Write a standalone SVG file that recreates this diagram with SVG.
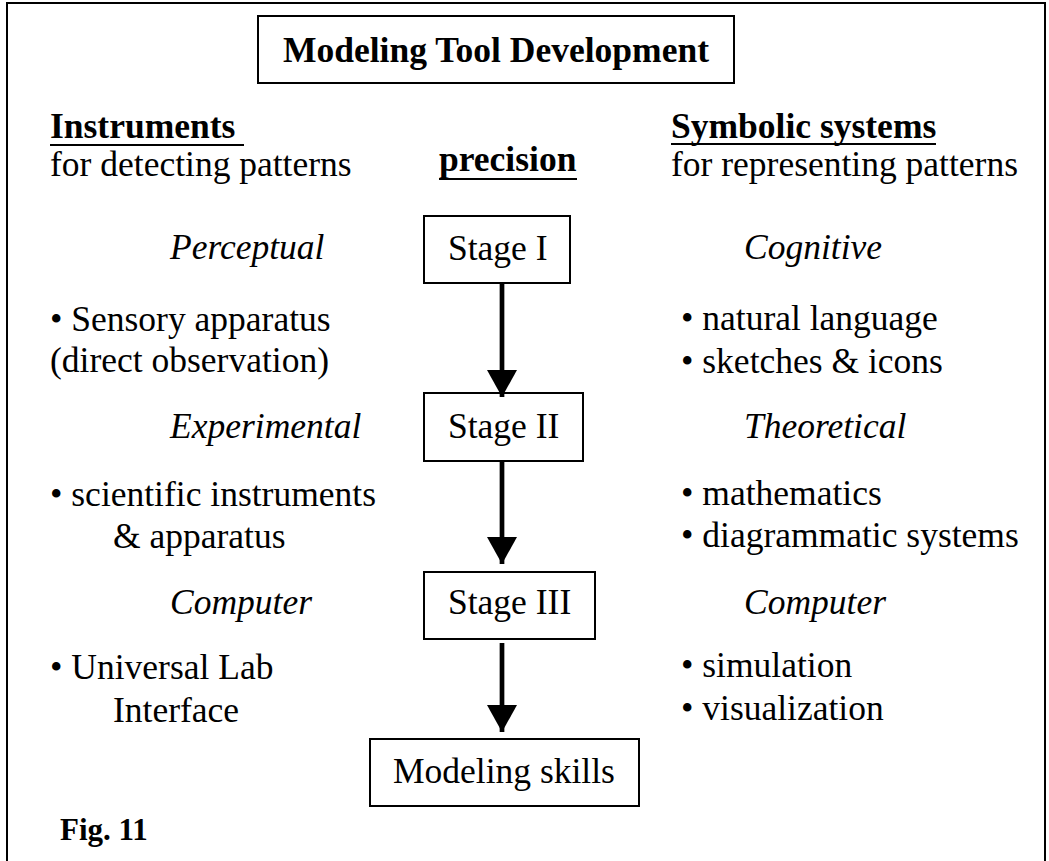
<svg xmlns="http://www.w3.org/2000/svg" width="1049" height="861" viewBox="0 0 1049 861">
<style>
text{font-family:"Liberation Serif","Times New Roman",serif;font-size:35.5px;fill:#000}
.b{font-weight:bold}
.i{font-style:italic}
.m{text-anchor:middle}
.box{fill:#fff;stroke:#000;stroke-width:2}
.ul{stroke:#000;stroke-width:2}
.shaft{stroke:#000;stroke-width:4.7;fill:none}
</style>
<defs>
<marker id="ah" markerUnits="userSpaceOnUse" markerWidth="30" markerHeight="30" viewBox="0 0 30 30" refX="27" refY="15" orient="auto">
<path d="M0,0 L27,15 L0,30 Z" fill="#000"/>
</marker>
</defs>
<rect x="0" y="0" width="1049" height="861" fill="#fff"/>
<rect x="7" y="3" width="1038" height="870" fill="none" stroke="#000" stroke-width="2"/>

<g id="title">
<rect class="box" x="258" y="16" width="476" height="67"/>
<text class="b m" x="496" y="62">Modeling Tool Development</text>
</g>

<g id="instruments">
<text class="b" x="50" y="138">Instruments</text>
<line class="ul" x1="50" y1="145" x2="244" y2="145"/>
<text x="50" y="176">for detecting patterns</text>
</g>

<g id="precision">
<text class="b" x="439" y="171">precision</text>
<line class="ul" x1="439" y1="179" x2="577" y2="179"/>
</g>

<g id="symbolic">
<text class="b" x="671" y="138">Symbolic systems</text>
<line class="ul" x1="671" y1="144" x2="936" y2="144"/>
<text x="671" y="176">for representing patterns</text>
</g>

<g id="left-labels">
<text class="i" x="170" y="259">Perceptual</text>
<text x="50" y="331">• Sensory apparatus</text>
<text x="50" y="372">(direct observation)</text>
<text class="i" x="170" y="438">Experimental</text>
<text x="50" y="506">• scientific instruments</text>
<text x="113" y="548">&amp; apparatus</text>
<text class="i" x="170" y="614">Computer</text>
<text x="50" y="679">• Universal Lab</text>
<text x="113" y="722">Interface</text>
</g>

<g id="right-labels">
<text class="i" x="744" y="259">Cognitive</text>
<text x="681" y="330">• natural language</text>
<text x="681" y="373">• sketches &amp; icons</text>
<text class="i" x="744" y="438">Theoretical</text>
<text x="681" y="505">• mathematics</text>
<text x="681" y="547">• diagrammatic systems</text>
<text class="i" x="744" y="614">Computer</text>
<text x="681" y="677">• simulation</text>
<text x="681" y="720">• visualization</text>
</g>

<g id="stage1">
<rect class="box" x="424" y="216" width="146" height="67"/>
<text x="448" y="260">Stage I</text>
</g>
<g id="stage2">
<rect class="box" x="424" y="393" width="159" height="68"/>
<text x="448" y="438">Stage II</text>
</g>
<g id="stage3">
<rect class="box" x="424" y="572" width="171" height="67"/>
<text x="448" y="614">Stage III</text>
</g>
<g id="skills">
<rect class="box" x="370" y="739" width="269" height="67"/>
<text x="393" y="783">Modeling skills</text>
</g>

<g id="connectors">
<line class="shaft" x1="502" y1="284" x2="502" y2="397" marker-end="url(#ah)"/>
<line class="shaft" x1="502" y1="462" x2="502" y2="564" marker-end="url(#ah)"/>
<line class="shaft" x1="502" y1="643" x2="502" y2="732" marker-end="url(#ah)"/>
</g>

<g id="fig">
<text class="b" x="60" y="840" style="font-size:31px">Fig. 11</text>
</g>
</svg>
